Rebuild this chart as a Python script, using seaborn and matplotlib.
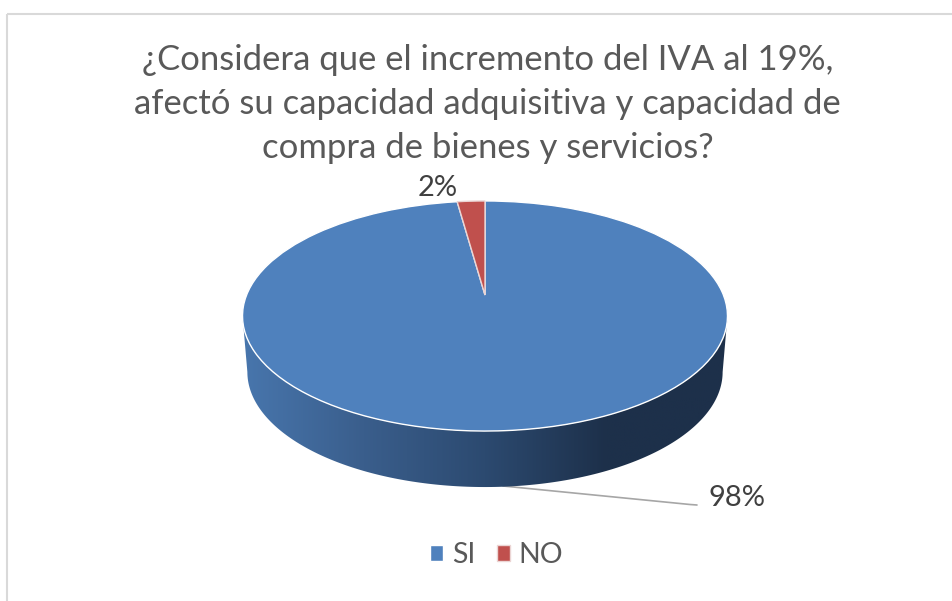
import numpy as np
import seaborn as sns
import matplotlib
matplotlib.use('Agg')
import matplotlib.pyplot as plt
from matplotlib.colors import LinearSegmentedColormap
from matplotlib.patches import Polygon
from matplotlib.transforms import Transform

title_lines = ['¿Considera que el incremento del IVA al 19%,',
               'afectó su capacidad adquisitiva y capacidad de',
               'compra de bienes y servicios?']
categories = ['SI', 'NO']
shares = [97.8, 2.2]
slice_colors = ['#4F81BD', '#C0504D']


# tilted disc: unit circle -> pixel position, with the near side bigger
class Perspective(Transform):
    input_dims = 2
    output_dims = 2

    def __init__(self, cx=485, cy=295, a=238.4, h=111.2, b=0.1826, drop=0, shrink=1.0):
        super().__init__()
        self.p = (cx, cy, a, h, b, drop, shrink)

    def transform_non_affine(self, values):
        cx, cy, a, h, b, drop, shrink = self.p
        values = np.asarray(values)
        x, y = values[:, 0], values[:, 1]
        w = 1 + b * y
        return np.column_stack([cx + shrink * a * x / w, cy + drop - h * y / w])


sns.set_theme(style='white')
plt.rcParams['font.family'] = ['Lato', 'DejaVu Sans']

fig = plt.figure(figsize=(9.53, 6.01), dpi=100)
ax = fig.add_axes([0, 0, 1, 1])

wedges, _ = ax.pie(shares, colors=sns.color_palette(slice_colors), startangle=90, counterclock=False,
                   wedgeprops={'edgecolor': 'white', 'linewidth': 1.0})
top = Perspective()
for w in wedges:
    w.set_transform(top + ax.transData)
    w.set_zorder(3)
wedges[1].set_edgecolor('#EBD5D4')

# side wall of the disc, from the widest point on one side to the other
widest = np.arcsin(0.1826)
t = np.linspace(np.pi + widest, 2 * np.pi - widest, 200)
circle = np.column_stack([np.cos(t), np.sin(t)])
upper = top.transform(circle)
lower = Perspective(drop=56, shrink=0.98).transform(circle)
wall = Polygon(np.vstack([upper, lower[::-1]]), closed=True, facecolor='none', edgecolor='none',
               transform=ax.transData)
ax.add_patch(wall)
wall_cmap = LinearSegmentedColormap.from_list('wall', ['#4876AD', '#3A5E8C', '#2C4A70', '#1D304A', '#1D304A'])
im = ax.imshow(np.linspace(0, 1, 256).reshape(1, -1), cmap=wall_cmap, aspect='auto',
               extent=(242, 728, 490, 310), zorder=2)
im.set_clip_path(wall)

ax.set_aspect('auto')
ax.set_xlim(0, 953)
ax.set_ylim(601, 0)
ax.set_axis_off()

# chart frame, only top and left survive the crop
ax.hlines(13.5, 7.5, 953, color='#D9D9D9', linewidth=1.5, zorder=1)
ax.vlines(7.5, 13.5, 601, color='#D9D9D9', linewidth=1.5, zorder=1)

for i, line in enumerate(title_lines):
    ax.text(487.5, 60.5 + i * 44, line, ha='center', va='center', fontsize=24.9, color='#595959')

ax.text(438, 188, f'{shares[1]:.0f}%', ha='center', va='center', fontsize=21, color='#404040')
ax.text(737, 498, f'{shares[0]:.0f}%', ha='center', va='center', fontsize=21, color='#404040')
ax.plot([503, 690, 697], [486, 504.5, 505], color='#A6A6A6', linewidth=1.2, zorder=1)

ax.legend(wedges, categories, loc='center', bbox_to_anchor=(496.5 / 953, 1 - 555 / 601), ncol=2, frameon=False,
          fontsize=20.5, labelcolor='#595959', handlelength=0.46, handleheight=0.46, handletextpad=0.3,
          columnspacing=0.75)

fig.savefig('out.png', dpi=100)
